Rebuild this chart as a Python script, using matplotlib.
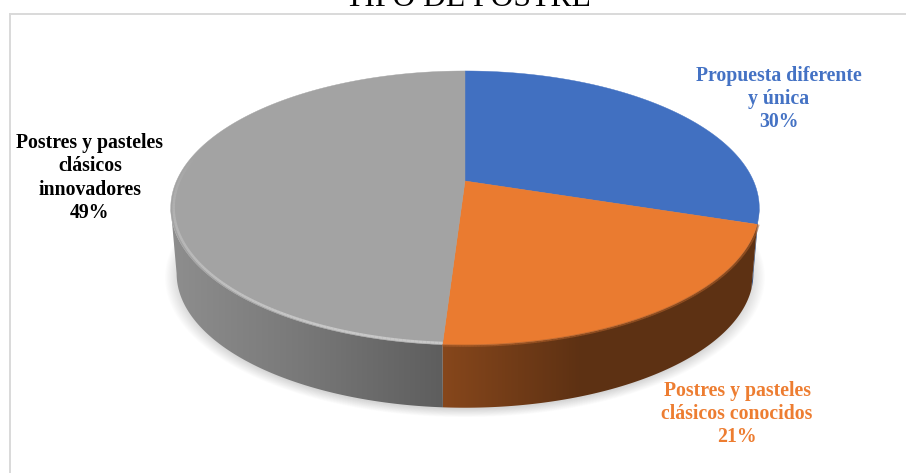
import numpy as np
import matplotlib
matplotlib.use("Agg")
import matplotlib.pyplot as plt
from matplotlib.collections import LineCollection
from matplotlib.patches import Polygon

title = "TIPO DE POSTRE"
categories = ["Propuesta diferente\ny única",
              "Postres y pasteles\nclásicos conocidos",
              "Postres y pasteles\nclásicos\ninnovadores"]
values = [30, 21, 49]
colors = ["#4170c1", "#ea7b30", "#a3a3a3"]
label_colors = ["#4472c4", "#ed7d31", "#000000"]
label_pos = [(779, 99), (737, 414), (90, 178)]
wall_boost = [1.6, 1.0, 1.0]

# disc projection, in pixels
cx, cy = 465, 181
ax_r, ay_r = 288.5, 131.7
persp = 0.197
depth = 66
base_scale = 0.98
# angle where the projected disc is widest, the wall's outline starts there
widest = np.degrees(np.arccos(-persp))


def rim(t, scale=1.0, dy=0.0):
    # t is degrees clockwise from twelve o'clock
    r = np.radians(t)
    w = 1 + persp * np.cos(r)
    return cx + scale * ax_r * np.sin(r) / w, cy + dy - scale * ay_r * np.cos(r) / w


fig = plt.figure(figsize=(9.06, 4.73), dpi=100)
ax = fig.add_axes([0, 0, 1, 1])
ax.axis("off")

# chart frame, only top and left are in view
ax.plot([10, 906], [14, 14], color="#d9d9d9", lw=1.4, zorder=1)
ax.plot([10, 10], [14, 473], color="#d9d9d9", lw=1.4, zorder=1)

ax.text(467.5, 6, title, family="Liberation Serif", fontsize=22.8,
        ha="center", va="baseline", color="black", zorder=5)

# soft shadow under the disc
tt = np.linspace(0, 360, 361)
for s in np.linspace(1.04, 0.99, 14):
    sx, sy = rim(tt, base_scale * s, depth + 3)
    ax.add_patch(Polygon(np.c_[sx, sy], closed=True, fc="black", ec="none",
                         alpha=0.011, zorder=2))

starts = np.cumsum([0] + values[:-1]) * 3.6
ends = np.cumsum(values) * 3.6

# side wall: horizontal gradient clipped to each slice's outline
xs = np.arange(906)
shade = np.interp(xs, [171, 300, 438, 580, 760], [0.87, 0.74, 0.58, 0.40, 0.40])
for a, b, col, boost in zip(starts, ends, colors, wall_boost):
    lo, hi = max(a, widest), min(b, 360 - widest)
    t = np.linspace(lo, hi, 200)
    x1, y1 = rim(t)
    x2, y2 = rim(t, base_scale, depth)
    clip = Polygon(np.r_[np.c_[x1, y1], np.c_[x2, y2][::-1]], closed=True,
                   fc="none", ec="none", transform=ax.transData)
    ax.add_patch(clip)
    grad = np.clip(np.outer(shade * boost, matplotlib.colors.to_rgb(col)), 0, 1)
    im = ax.imshow(grad[None, :, :], extent=(0, 906, 473, 0), aspect="auto",
                   interpolation="bilinear", zorder=3)
    im.set_clip_path(clip)

ax.set_xlim(0, 906)
ax.set_ylim(473, 0)

# top face
for a, b, col in zip(starts, ends, colors):
    t = np.linspace(a, b, 200)
    x, y = rim(t)
    ax.add_patch(Polygon(np.r_[[[cx, cy]], np.c_[x, y]], closed=True, fc=col, ec=col,
                         lw=0.3, zorder=4))

# bevel along the front edge
for a, b, col, hi in [(starts[1], ends[1], "#b0602a", False), (starts[2], 282, "#d8d8d8", True)]:
    t = np.linspace(a, b, 150)
    x, y = rim(t, 0.99 if hi else 1.004)
    pts = np.c_[x, y]
    segs = np.stack([pts[:-1], pts[1:]], axis=1)
    rgb = matplotlib.colors.to_rgb(col)
    if hi:
        fade = np.interp(t[:-1], [a, 205, 250, 282], [0.7, 0.7, 0.35, 0.0])
    else:
        fade = np.full(len(segs), 0.6)
    ax.add_collection(LineCollection(segs, colors=[(*rgb, f) for f in fade],
                                     lw=1.8, zorder=4.5))

for name, val, col, pos in zip(categories, values, label_colors, label_pos):
    ax.text(pos[0], pos[1], f"{name}\n{val}%", family="Liberation Serif", weight="bold",
            fontsize=14.2, color=col, ha="center", va="center", linespacing=1.21, zorder=6)

fig.savefig("out.png", dpi=100)
